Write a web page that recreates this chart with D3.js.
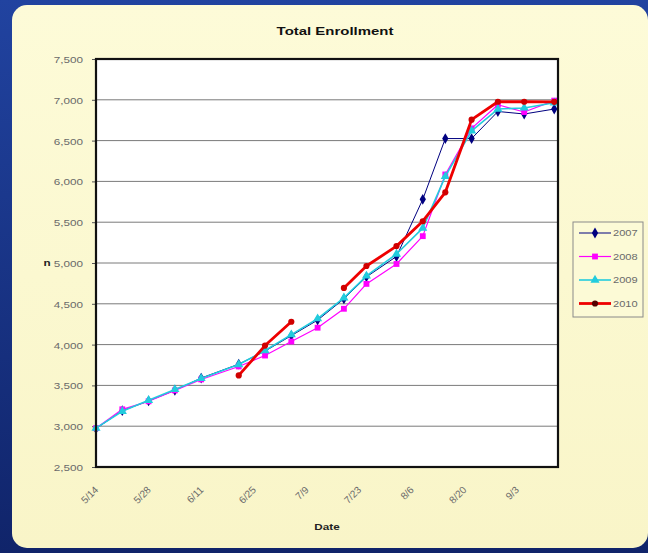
<!DOCTYPE html>
<html><head><meta charset="utf-8">
<script src="https://cdn.jsdelivr.net/npm/d3@7"></script>
<style>body{margin:0;padding:0;overflow:hidden;background:#1b3585}svg{display:block}</style>
</head><body>
<svg id="c" width="648" height="553"></svg>
<script>
const dates = ["5/14","5/21","5/28","6/4","6/11","6/21","6/28","7/5","7/12","7/19","7/25","8/2","8/9","8/15","8/22","8/29","9/5","9/13"];
const years = ["2007","2008","2009","2010"];
const v2007 = [2970,3190,3310,3440,3590,3760,3920,4110,4300,4560,4830,5080,5780,6525,6525,6857,6826,6887];
const v2008 = [2976,3207,3305,3439,3573,3732,3866,4037,4207,4439,4744,4988,5329,6085,6650,6939,6850,6990];
const v2009 = [2976,3183,3317,3451,3585,3756,3927,4122,4317,4573,4841,5110,5427,6061,6620,6887,6900,6963];
const v2010 = [null,null,null,null,null,3622,3988,4280,null,4695,4963,5207,5512,5866,6756,6976,6976,6975];
const xTickLabels = ["5/14","5/28","6/11","6/25","7/9","7/23","8/6","8/20","9/3"];
const yTicks = [2500,3000,3500,4000,4500,5000,5500,6000,6500,7000,7500];
const xDomainLabels = ["5/14","9/14"];

const parse = s => { const [m,d] = s.split("/").map(Number); return new Date(2010, m-1, d); };
const svg = d3.select("#c");
const SX = 1.3;
const FONT = "Arial, Liberation Sans, sans-serif";

// background
const defs = svg.append("defs");
const bg = defs.append("linearGradient").attr("id","bg").attr("x1",0).attr("y1",0).attr("x2",0).attr("y2",1);
bg.append("stop").attr("offset","0%").attr("stop-color","#2143a0");
bg.append("stop").attr("offset","100%").attr("stop-color","#10246a");
svg.append("rect").attr("width",648).attr("height",553).attr("fill","url(#bg)");
const pg = defs.append("linearGradient").attr("id","pg").attr("x1",0).attr("y1",0).attr("x2",0).attr("y2",1);
pg.append("stop").attr("offset","0%").attr("stop-color","#fdfbd8");
pg.append("stop").attr("offset","100%").attr("stop-color","#f9f5c8");
svg.append("rect").attr("x",12).attr("y",5).attr("width",636).attr("height",543).attr("rx",15).attr("fill","url(#pg)");

const L=96, T=59, R=558, B=467;
const x = d3.scaleTime().domain(xDomainLabels.map(parse)).range([L,R]);
const y = d3.scaleLinear().domain([2500,7500]).range([B,T]);

svg.append("rect").attr("x",L).attr("y",T).attr("width",R-L).attr("height",B-T).attr("fill","#fff");

// gridlines
svg.append("g").selectAll("line").data(yTicks.slice(1,-1)).join("line")
  .attr("x1",L).attr("x2",R).attr("y1",d=>y(d)).attr("y2",d=>y(d))
  .attr("stroke","#7a7a7a").attr("stroke-width",1);

// y axis
const yAxis = d3.axisLeft(y).tickValues(yTicks).tickSize(4).tickFormat(d3.format(","));
const ya = svg.append("g").attr("transform",`translate(${L},0)`).call(yAxis);
ya.select(".domain").remove();
ya.selectAll(".tick line").attr("stroke","#555");
ya.selectAll(".tick text").each(function(){
  const t = d3.select(this);
  t.attr("x",null).attr("dy",null).attr("text-anchor","end")
   .attr("transform",`translate(-13,3.5) scale(${SX},1)`);
}).attr("font-family",FONT).attr("font-size",9).attr("fill","#6a6a6a");

// x axis
const xAxis = d3.axisBottom(x).tickValues(xTickLabels.map(parse)).tickSize(0).tickFormat(d3.timeFormat("%-m/%-d"));
const xa = svg.append("g").attr("transform",`translate(0,${B})`).call(xAxis);
xa.select(".domain").remove();
xa.selectAll(".tick text").attr("y",null).attr("dy","0.35em").attr("text-anchor","end")
  .attr("transform",`translate(0,21) rotate(-45)`)
  .attr("font-family",FONT).attr("font-size",10).attr("fill","#6a6a6a");

// series
const series = [
  {name:years[0], vals:v2007, color:"#000080", w:1, marker:"diamond"},
  {name:years[1], vals:v2008, color:"#ff00ff", w:1.2, marker:"square"},
  {name:years[2], vals:v2009, color:"#22ccdd", w:1.6, marker:"triangle"},
  {name:years[3], vals:v2010, color:"#ee0000", w:2.8, marker:"circle"}
];
const symMap = {diamond:d3.symbolDiamond, square:d3.symbolSquare, triangle:d3.symbolTriangle, circle:d3.symbolCircle};
const symSize = {diamond:34, square:34, triangle:36, circle:30};
const line = d3.line().defined(d=>d.v!=null).x(d=>x(d.d)).y(d=>y(d.v));
const plotG = svg.append("g");
series.forEach(s=>{
  const pts = dates.map((dd,i)=>({d:parse(dd), v:s.vals[i]}));
  plotG.append("path").datum(pts).attr("d",line).attr("fill","none")
    .attr("stroke",s.color).attr("stroke-width",s.w).attr("stroke-linejoin","round");
  plotG.append("g").selectAll("path").data(pts.filter(p=>p.v!=null)).join("path")
    .attr("transform",p=>`translate(${x(p.d)},${y(p.v)})`)
    .attr("d",d3.symbol().type(symMap[s.marker]).size(symSize[s.marker]))
    .attr("fill",s.marker==="circle"?"#d00000":s.color);
});

// plot border
svg.append("rect").attr("x",L).attr("y",T).attr("width",R-L).attr("height",B-T)
  .attr("fill","none").attr("stroke","#111").attr("stroke-width",2.2);

// title & axis titles
svg.append("text").attr("text-anchor","middle").attr("transform",`translate(335,35) scale(${SX},1)`)
  .attr("font-family",FONT).attr("font-weight","bold").attr("font-size",11.5).attr("fill","#111")
  .text("Total  Enrollment");
svg.append("text").attr("text-anchor","middle").attr("transform",`translate(327,530) scale(${SX},1)`)
  .attr("font-family",FONT).attr("font-weight","bold").attr("font-size",9).attr("fill","#222")
  .text("Date");
svg.append("text").attr("text-anchor","middle").attr("transform",`translate(47,266) scale(${SX},1)`)
  .attr("font-family",FONT).attr("font-weight","bold").attr("font-size",9).attr("fill","#222")
  .text("n");

// legend
const lg = svg.append("g");
lg.append("rect").attr("x",573).attr("y",222).attr("width",70).attr("height",95)
  .attr("fill","#fcfad6").attr("stroke","#8a8a8a").attr("stroke-width",1);
series.forEach((s,i)=>{
  const ly = 233 + i*23.5;
  lg.append("line").attr("x1",579).attr("x2",611).attr("y1",ly).attr("y2",ly)
    .attr("stroke",s.color).attr("stroke-width",s.w);
  lg.append("path").attr("transform",`translate(595,${ly})`)
    .attr("d",d3.symbol().type(symMap[s.marker]).size(symSize[s.marker]))
    .attr("fill",s.marker==="circle"?"#550000":s.color);
  lg.append("text").attr("transform",`translate(613,${ly+3}) scale(${SX},1)`)
    .attr("font-family",FONT).attr("font-size",8.5).attr("fill","#6a6a6a")
    .text(s.name);
});
</script>
</body></html>
